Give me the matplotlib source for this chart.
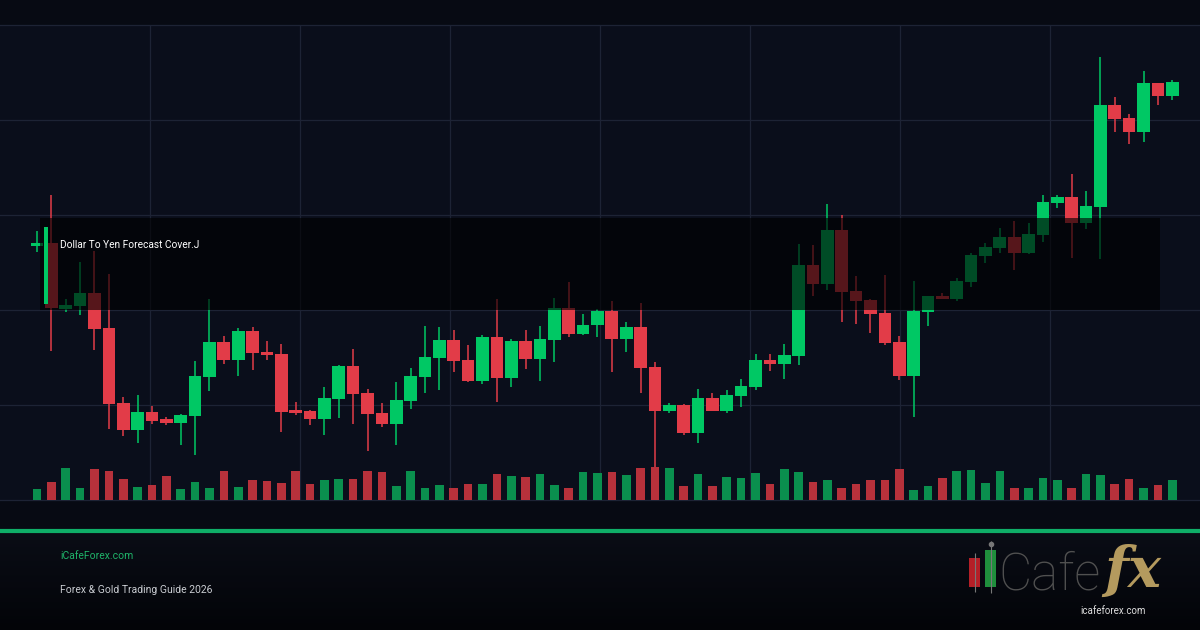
import numpy as np
import matplotlib.pyplot as plt
from matplotlib.patches import Rectangle

plt.rcParams['font.family'] = ['Roboto', 'DejaVu Sans']

# daily candles, price (no axis labels on the original)
opens = [147.54, 147.57, 146.91, 146.94, 147.07, 146.72, 145.97, 145.70, 145.88, 145.81,
         145.77, 145.84, 146.23, 146.58, 146.40, 146.69, 146.48, 146.46, 145.89, 145.89,
         145.81, 146.01, 146.34, 146.07, 145.87, 145.76, 145.99, 146.23, 146.42, 146.60,
         146.40, 146.19, 146.63, 146.22, 146.59, 146.41, 146.60, 146.92, 146.66, 146.75,
         146.89, 146.61, 146.73, 146.33, 145.89, 145.95, 145.67, 146.02, 145.89, 146.04,
         146.13, 146.40, 146.36, 146.44, 147.35, 147.16, 147.70, 147.09, 147.00, 146.87,
         146.58, 146.24, 146.88, 147.04, 147.01, 147.18, 147.44, 147.52, 147.63, 147.47,
         147.65, 147.97, 148.03, 147.77, 147.93, 148.95, 148.82, 148.68, 149.17, 149.04]
highs = [147.69, 148.05, 147.01, 147.38, 147.49, 147.26, 146.03, 146.05, 145.94, 145.83,
         145.86, 146.39, 147.01, 146.64, 146.72, 146.73, 146.59, 146.56, 145.98, 145.90,
         146.13, 146.35, 146.51, 146.11, 145.97, 146.18, 146.32, 146.74, 146.73, 146.70,
         146.55, 146.65, 147.01, 146.61, 146.70, 146.74, 147.02, 147.18, 146.86, 146.91,
         146.99, 146.78, 146.97, 146.38, 145.97, 145.96, 146.11, 146.07, 146.10, 146.21,
         146.46, 146.46, 146.56, 147.56, 147.55, 147.96, 147.85, 147.24, 147.01, 147.25,
         146.64, 147.19, 147.04, 147.07, 147.22, 147.47, 147.57, 147.72, 147.79, 147.77,
         148.05, 148.05, 148.26, 148.09, 149.43, 149.03, 148.86, 149.29, 149.17, 149.20]
lows = [147.48, 146.49, 146.88, 146.85, 146.50, 145.71, 145.64, 145.57, 145.76, 145.75,
        145.55, 145.45, 146.09, 146.36, 146.24, 146.30, 146.40, 145.68, 145.85, 145.75,
        145.65, 145.82, 145.76, 145.49, 145.73, 145.55, 145.91, 146.07, 146.10, 146.28,
        146.18, 146.16, 145.98, 146.13, 146.31, 146.19, 146.38, 146.63, 146.65, 146.63,
        146.28, 146.48, 146.07, 145.32, 145.87, 145.65, 145.57, 145.89, 145.87, 145.93,
        146.10, 146.29, 146.21, 146.35, 147.04, 147.10, 146.78, 146.76, 146.67, 146.55,
        146.20, 145.83, 146.74, 147.01, 146.99, 147.13, 147.37, 147.47, 147.30, 147.46,
        147.58, 147.92, 147.42, 147.71, 147.41, 148.68, 148.56, 148.58, 148.95, 149.00]
closes = [147.57, 146.92, 146.95, 147.07, 146.71, 145.96, 145.70, 145.88, 145.79, 145.77,
          145.85, 146.24, 146.58, 146.40, 146.69, 146.47, 146.45, 145.88, 145.87, 145.81,
          146.02, 146.34, 146.06, 145.86, 145.76, 146.00, 146.24, 146.43, 146.60, 146.39,
          146.19, 146.63, 146.22, 146.59, 146.41, 146.61, 146.92, 146.66, 146.75, 146.89,
          146.61, 146.73, 146.32, 145.89, 145.95, 145.67, 146.02, 145.89, 146.05, 146.14,
          146.40, 146.36, 146.45, 147.35, 147.16, 147.70, 147.08, 146.99, 146.86, 146.57,
          146.24, 146.89, 147.04, 147.01, 147.19, 147.45, 147.53, 147.63, 147.47, 147.66,
          147.98, 148.03, 147.77, 147.94, 148.95, 148.81, 148.68, 149.17, 149.04, 149.18]

volumes = [107, 177, 317, 117, 307, 287, 207, 127, 147, 237, 107, 177, 117, 287, 127, 197,
           187, 167, 287, 157, 197, 207, 207, 287, 277, 137, 287, 117, 147, 117, 157, 157,
           257, 237, 227, 257, 147, 117, 277, 267, 277, 247, 317, 327, 317, 137, 257, 137,
           227, 217, 267, 157, 307, 277, 177, 197, 117, 157, 197, 197, 307, 97, 137, 217,
           287, 297, 167, 287, 117, 117, 217, 197, 117, 257, 247, 157, 207, 117, 147, 197]
# colour of each volume bar (g = up, r = down) as drawn in the picture
vol_side = list("grggrrrgrrgggrgrrrrrggrrrggggrrgrgrggrgg"
                "rgrrgrgrgggrggrgrrrrrggrggggrgggrggrrgrg")

title = "Dollar To Yen Forecast Cover.J"
site = "iCafeForex.com"
subtitle = "Forex & Gold Trading Guide 2026"

GREEN = '#00c864'
RED = '#e23c48'
VGREEN = '#0a8f4e'
VRED = '#b7313b'
BG = '#070a13'
PANEL = '#0a0e1b'
GRID = '#1d2335'

o = np.array(opens)
h = np.array(highs)
l = np.array(lows)
c = np.array(closes)
x = np.arange(len(o))
up = c >= o
col = np.where(up, GREEN, RED)

fig = plt.figure(figsize=(12, 6.3), dpi=100, facecolor=BG)

# footer gradient
fax = fig.add_axes([0, 0, 1, 97 / 630])
grad = np.linspace(0, 1, 100).reshape(-1, 1)
fax.imshow(grad, aspect='auto', cmap=plt.matplotlib.colors.LinearSegmentedColormap.from_list(
    'ft', ['#030408', '#0a0d16']), origin='lower', extent=[0, 1, 0, 1])
fax.axis('off')

ax = fig.add_axes([0, 130 / 630, 1, 475 / 630], facecolor=PANEL)
xlim = (-2.575, 80.93)
ax.set_xlim(*xlim)
ax.set_ylim(145.0, 149.75)
ax.set_xticks(np.linspace(xlim[0], xlim[1], 9)[1:-1])
ax.set_yticks(145.0 + 0.95 * np.arange(1, 5))
ax.grid(True, color=GRID, lw=0.9)
ax.tick_params(length=0, labelbottom=False, labelleft=False)
for s in ['left', 'right']:
    ax.spines[s].set_visible(False)
for s in ['top', 'bottom']:
    ax.spines[s].set_color(GRID)
    ax.spines[s].set_linewidth(0.9)

ax.vlines(x, l, h, colors=col, lw=1.1, zorder=2)
body = np.maximum(np.abs(c - o), 0.03)
ax.bar(x, body, bottom=np.minimum(o, c), width=0.88, color=col, zorder=3)

# dark label box
ax.add_patch(Rectangle((40 / 1200, 0.4), 1120 / 1200, 92 / 475, transform=ax.transAxes,
                       facecolor='black', alpha=0.62, lw=0, zorder=5))
ax.add_patch(Rectangle((44 / 1200, 196 / 475), 4 / 1200, 77 / 475, transform=ax.transAxes,
                       facecolor=GREEN, lw=0, zorder=6))
fig.text(60 / 1200, 1 - 245 / 630, title, color='white', fontsize=7.3, va='center')

# volume panel
vax = fig.add_axes([0, 130 / 630, 1, 50 / 630])
vax.patch.set_alpha(0)
vax.set_xlim(*xlim)
vax.set_ylim(0, 500)
vax.bar(x, volumes, width=0.6, color=[VGREEN if s == 'g' else VRED for s in vol_side])
vax.axis('off')

# footer
fig.add_artist(plt.Line2D([0, 1], [1 - 531 / 630] * 2, color='#0fae68', lw=3))
fig.text(60 / 1200, 1 - 556 / 630, site, color='#1fb46a', fontsize=7.5, va='center')
fig.text(60 / 1200, 1 - 590 / 630, subtitle, color='#c9ccd1', fontsize=7.5, va='center')

# logo
lax = fig.add_axes([0, 0, 1, 1])
lax.set_xlim(0, 1200)
lax.set_ylim(630, 0)
lax.axis('off')
lax.patch.set_alpha(0)
lax.vlines([974.5, 990.5], [553, 541], [592, 593], colors='#777777', lw=0.8)
lax.add_patch(Rectangle((969, 558), 11, 29, facecolor='#b51f27', lw=0))
lax.add_patch(Rectangle((985, 550), 11, 37, facecolor='#1f8f3c', lw=0))
lax.plot(990.5, 544, 'o', ms=3, color='#777777')
lax.text(998, 590, 'Cafe', color='#505050', fontsize=37, fontweight='light', va='baseline')
lax.text(1104, 587, 'fx', color='#b49a5e', fontsize=40, family='DejaVu Serif',
         style='italic', fontweight='bold', va='baseline')
lax.text(1113, 611, 'icafeforex.com', color='#dddddd', fontsize=7, ha='center', va='center')

fig.savefig('out.png', dpi=100, facecolor=BG)
